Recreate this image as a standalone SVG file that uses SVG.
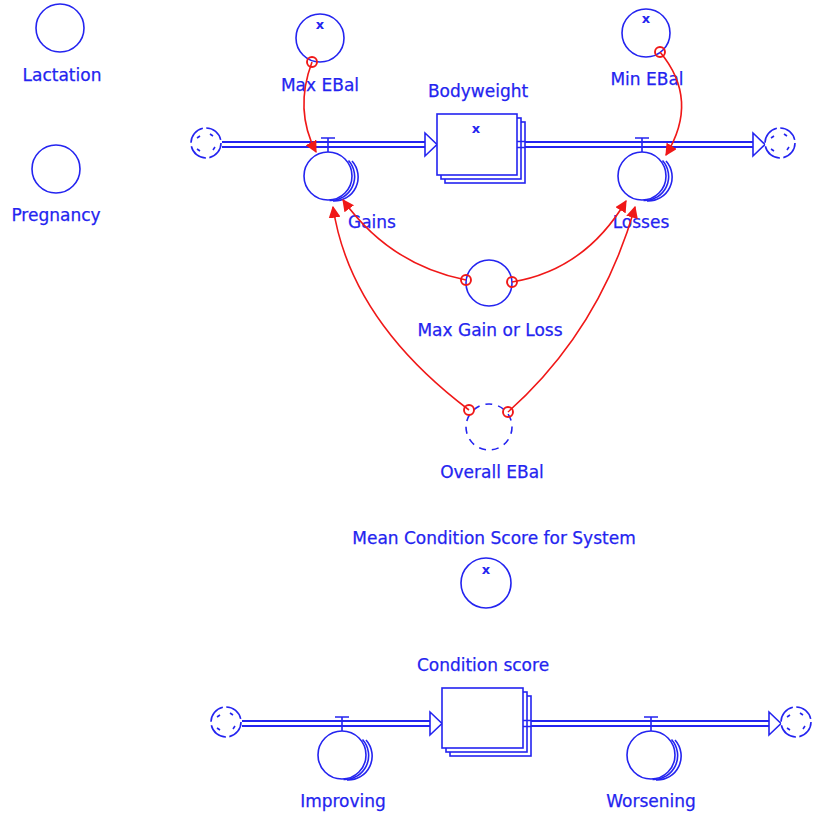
<svg xmlns="http://www.w3.org/2000/svg" width="814" height="814" viewBox="0 0 814 814">
  <style>
    .ln { fill: none; stroke: #2424f0; stroke-width: 1.6; }
    .fill { fill: #fff; stroke: #2424f0; stroke-width: 1.6; }
    .lbl { font-family: "DejaVu Sans", "Liberation Sans", sans-serif; font-size: 17px; fill: #2424f0; stroke: #2424f0; stroke-width: 0.25; text-anchor: middle; }
    .xm { font-family: "DejaVu Sans", sans-serif; font-size: 13px; font-weight: bold; fill: #2424f0; text-anchor: middle; }
    .pipeOut { fill: none; stroke: #2424f0; stroke-width: 7; }
    .pipeIn { fill: none; stroke: #fff; stroke-width: 3; }
    .link { fill: none; stroke: #f01818; stroke-width: 1.6; marker-end: url(#arr); }
    .tail { fill: none; stroke: #f01818; stroke-width: 1.9; }
  </style>
  <defs>
    <marker id="arr" viewBox="0 0 10 10" refX="9" refY="5" markerWidth="12" markerHeight="12" markerUnits="userSpaceOnUse" orient="auto">
      <path d="M0,0 L10,5 L0,10 z" fill="#f01818"/>
    </marker>
    <!-- cloud (source / sink) -->
    <g id="cloud">
      <circle r="15" class="fill" stroke-dasharray="20 3.5"/>
      <path d="M-9,-5 l3,-2 M4,-9 l3,2 M9,4 l-2,3 M-6,8 l-3,-2" class="ln" stroke-width="1.4"/>
    </g>
    <!-- stacked flow converter body -->
    <g id="valve">
      <path d="M 17,-16 A 24 24 0 0 1 -2,24" transform="translate(7,1)" class="ln" stroke-width="1.3"/>
      <path d="M 17,-16 A 24 24 0 0 1 -2,24" transform="translate(3.5,0.5)" class="ln" stroke-width="1.3"/>
      <circle r="24" class="fill"/>
      <path d="M-7,-38 H7 M0,-38 V-24" class="ln"/>
    </g>
  </defs>

  <!-- Bodyweight flow pipes -->
  <g id="pipes-bodyweight">
    <path d="M222,144.5 H426" class="pipeOut"/>
    <path d="M222,144.5 H426" class="pipeIn"/>
    <path d="M517,144.5 H754" class="pipeOut"/>
    <path d="M517,144.5 H754" class="pipeIn"/>
    <path d="M425,133 L437,144.5 L425,156 z" class="fill"/>
    <path d="M753,133 L765,144.5 L753,156 z" class="fill"/>
  </g>

  <!-- Condition score flow pipes -->
  <g id="pipes-condition">
    <path d="M242,723.5 H431" class="pipeOut"/>
    <path d="M242,723.5 H431" class="pipeIn"/>
    <path d="M523,723.5 H770" class="pipeOut"/>
    <path d="M523,723.5 H770" class="pipeIn"/>
    <path d="M430,712 L442,723.5 L430,735 z" class="fill"/>
    <path d="M769,712 L781,723.5 L769,735 z" class="fill"/>
  </g>

  <g id="lactation">
    <circle cx="60" cy="28" r="24" class="fill"/>
    <text x="62" y="81" class="lbl">Lactation</text>
  </g>
  <g id="pregnancy">
    <circle cx="56" cy="169" r="24" class="fill"/>
    <text x="56" y="221" class="lbl">Pregnancy</text>
  </g>

  <g id="source-bodyweight"><use href="#cloud" x="206" y="143"/></g>
  <g id="sink-bodyweight"><use href="#cloud" x="780" y="143"/></g>

  <g id="bodyweight">
    <rect x="445" y="122" width="80" height="61" class="fill"/>
    <rect x="441" y="118" width="80" height="61" class="fill"/>
    <rect x="437" y="114" width="80" height="61" class="fill"/>
    <path d="M517,141.5 H525 M517,147.5 H525" class="ln" stroke-width="1.5"/>
    <text x="476" y="133" class="xm">x</text>
    <text x="478" y="97" class="lbl">Bodyweight</text>
  </g>

  <g id="max-ebal">
    <circle cx="320" cy="38" r="24" class="fill"/>
    <text x="320" y="29" class="xm">x</text>
    <text x="320" y="91" class="lbl">Max EBal</text>
  </g>
  <g id="min-ebal">
    <circle cx="646" cy="33" r="24" class="fill"/>
    <text x="646" y="23" class="xm">x</text>
    <text x="647" y="85" class="lbl">Min EBal</text>
  </g>

  <g id="gains">
    <use href="#valve" x="328" y="176"/>
    <text x="372" y="228" class="lbl">Gains</text>
  </g>
  <g id="losses">
    <use href="#valve" x="642" y="176"/>
    <text x="641" y="228" class="lbl">Losses</text>
  </g>

  <g id="max-gain-or-loss">
    <circle cx="489" cy="283" r="23" class="fill"/>
    <text x="490" y="336" class="lbl">Max Gain or Loss</text>
  </g>
  <g id="overall-ebal">
    <circle cx="489" cy="427" r="23" class="fill" stroke-dasharray="7 6"/>
    <text x="492" y="478" class="lbl">Overall EBal</text>
  </g>

  <g id="mean-condition-score">
    <circle cx="486" cy="583" r="25" class="fill"/>
    <text x="486" y="574" class="xm">x</text>
    <text x="494" y="544" class="lbl">Mean Condition Score for System</text>
  </g>

  <g id="source-condition"><use href="#cloud" x="226" y="722"/></g>
  <g id="sink-condition"><use href="#cloud" x="796" y="722"/></g>

  <g id="condition-score">
    <rect x="450" y="696" width="81" height="60" class="fill"/>
    <rect x="446" y="692" width="81" height="60" class="fill"/>
    <rect x="442" y="688" width="81" height="60" class="fill"/>
    <path d="M523,720.5 H531 M523,726.5 H531" class="ln" stroke-width="1.5"/>
    <text x="483" y="671" class="lbl">Condition score</text>
  </g>

  <g id="improving">
    <use href="#valve" x="342" y="755"/>
    <text x="343" y="807" class="lbl">Improving</text>
  </g>
  <g id="worsening">
    <use href="#valve" x="651" y="755"/>
    <text x="651" y="807" class="lbl">Worsening</text>
  </g>

  <!-- information links -->
  <g id="connectors">
    <path d="M312,62 Q294,110 316,152" class="link"/>
    <path d="M660,52 Q700,100 666,155" class="link"/>
    <path d="M466,280 Q390,265 343,200" class="link"/>
    <path d="M512,282 Q585,270 626,201" class="link"/>
    <path d="M469,410 Q350,320 333,207" class="link"/>
    <path d="M508,412 Q600,330 635,207" class="link"/>
    <circle cx="312" cy="62" r="5" class="tail"/>
    <circle cx="660" cy="52" r="5" class="tail"/>
    <circle cx="466" cy="280" r="5" class="tail"/>
    <circle cx="512" cy="282" r="5" class="tail"/>
    <circle cx="469" cy="410" r="5" class="tail"/>
    <circle cx="508" cy="412" r="5" class="tail"/>
  </g>
</svg>
